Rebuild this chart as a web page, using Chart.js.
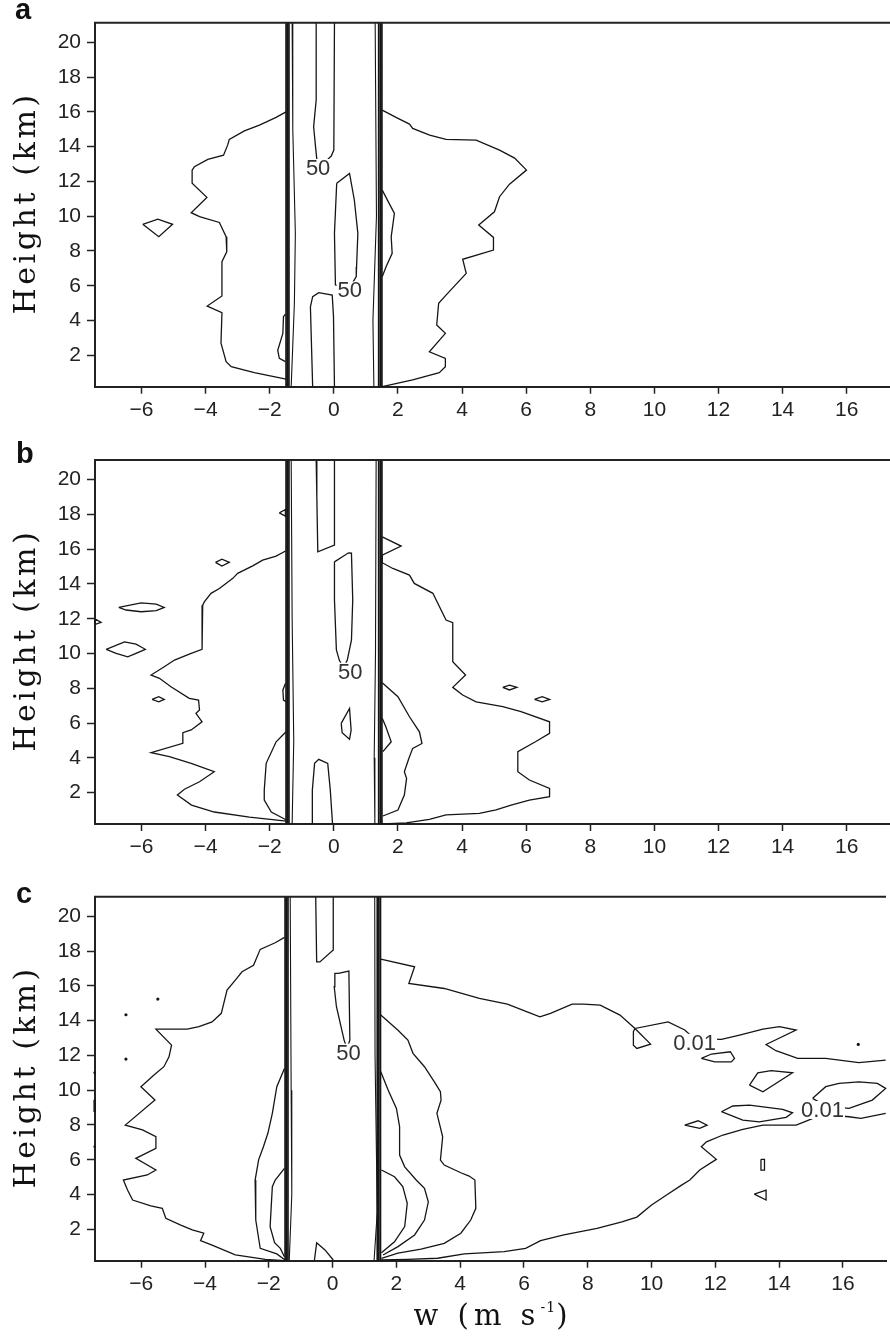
<!DOCTYPE html>
<html>
<head>
<meta charset="utf-8">
<title>Vertical velocity CFAD</title>
<script src="https://cdn.jsdelivr.net/npm/chart.js@4.4.1/dist/chart.umd.min.js"></script>
<style>
  html, body { margin: 0; padding: 0; background: #fff; }
  #wrap { position: relative; width: 890px; height: 1337px; overflow: hidden; }
  canvas { position: absolute; left: 0; }
</style>
</head>
<body>
<div id="wrap">
  <canvas id="panelA" width="890" height="437" style="top:0px"></canvas>
  <canvas id="panelB" width="890" height="437" style="top:437px"></canvas>
  <canvas id="panelC" width="890" height="463" style="top:874px"></canvas>
</div>
<script>
// ---- axes ----
const W_MIN = -7.45, W_MAX = 17.35;
const H_MIN = 0.19, H_MAX = 21.13;
const wTicks = [-6, -4, -2, 0, 2, 4, 6, 8, 10, 12, 14, 16];
const hTicks = [2, 4, 6, 8, 10, 12, 14, 16, 18, 20];

// the steep edges of the distribution near |w| = 1.5 (several levels stacked)
const bandLeft = [-1.49, -1.445, -1.40];
const bandRight = [1.40, 1.45, 1.50];

// ---- panel a contours, [w (m/s), height (km)] ----
const aOuterLeft = [[-1.49,16.0],[-1.80,15.68],[-2.32,15.24],[-2.79,14.91],[-3.26,14.42],[-3.31,14.1],[-3.44,13.51],[-3.93,13.27],[-4.35,12.84],[-4.42,12.65],[-4.42,11.89],[-3.96,11.08],[-4.45,10.20],[-4.19,9.97],[-3.57,9.64],[-3.36,8.82],[-3.34,7.95],[-3.49,7.38],[-3.49,5.41],[-3.95,4.83],[-3.49,4.45],[-3.52,2.69],[-3.36,1.63],[-3.20,1.34],[-2.48,1.0],[-1.49,0.62]];
const aLoopLeft = [[-5.96,9.53],[-5.49,9.83],[-5.03,9.53],[-5.46,8.82]];
const aBumpLeft = [[-1.51,4.37],[-1.57,4.22],[-1.59,3.26],[-1.75,2.29],[-1.70,1.82],[-1.51,1.63]];
const aOuterRight = [[1.51,16.10],[1.94,15.68],[2.36,15.30],[2.46,15.05],[2.99,14.66],[3.50,14.42],[4.44,14.38],[5.17,13.80],[5.64,13.34],[6.01,12.65],[5.48,11.84],[5.17,11.12],[5.01,10.25],[4.52,9.49],[4.98,8.78],[4.98,8.05],[4.02,7.52],[4.13,6.71],[3.50,5.46],[3.27,4.99],[3.21,3.74],[3.48,3.26],[2.98,2.20],[3.48,1.82],[3.48,1.34],[3.29,1.0],[2.46,0.58],[1.51,0.19]];
const aBumpRight = [[1.51,11.50],[1.89,10.16],[1.79,8.82],[1.82,7.86],[1.63,7.09],[1.51,6.52]];
const aInnerLeft = [[-1.30,21.13],[-1.28,15.0],[-1.20,9.0],[-1.23,5.0],[-1.33,0.19]];
const aInnerRight = [[1.29,21.13],[1.33,10.0],[1.22,4.0],[1.25,0.19]];
const a50Upper = [[-0.55,21.13],[-0.55,16.68],[-0.63,15.14],[-0.57,13.99],[-0.53,13.27],[-0.35,12.9],[-0.19,13.27],[-0.08,13.46],[0.0,13.80],[0.02,21.13]];
const a50Mid = [[0.09,11.89],[0.49,12.46],[0.64,10.93],[0.75,9.01],[0.71,7.09],[0.70,6.52],[0.5,5.9],[0.05,6.04],[0.02,9.01]];
const a50Low = [[-0.66,0.19],[-0.73,4.79],[-0.66,5.37],[-0.47,5.60],[-0.05,5.46],[-0.01,4.22],[0.02,0.19]];
const aLabels = [['50', -0.49, 12.77], ['50', 0.50, 5.73]];

// ---- panel b ----
const bOuterLeft = [[-1.49,15.91],[-1.80,15.60],[-2.22,15.37],[-2.53,15.04],[-3.00,14.61],[-3.15,14.32],[-3.57,13.74],[-3.83,13.46],[-4.04,12.97],[-4.09,12.78],[-4.11,10.24],[-4.45,10.01],[-4.97,9.62],[-5.29,9.24],[-5.70,8.76],[-5.44,8.57],[-5.08,8.09],[-4.51,7.42],[-4.22,7.32],[-4.19,6.75],[-4.30,6.56],[-4.11,6.07],[-4.45,5.60],[-4.71,5.44],[-4.71,4.83],[-5.70,4.29],[-5.13,4.06],[-4.45,3.68],[-3.73,3.20],[-4.19,2.62],[-4.66,2.19],[-4.88,1.86],[-4.44,1.28],[-3.73,0.88],[-2.63,0.59],[-1.48,0.36]];
const bInnerLeft = [[-1.49,5.50],[-1.80,4.92],[-2.11,3.68],[-2.17,2.15],[-2.17,1.57],[-1.95,0.88],[-1.48,0.42]];
const bBumpLeft = [[-1.51,8.28],[-1.59,7.89],[-1.57,7.32],[-1.49,7.22]];
const bLoop1 = [[-3.69,15.24],[-3.49,15.42],[-3.26,15.24],[-3.49,15.03]];
const bLoop2 = [[-1.70,18.09],[-1.51,18.28],[-1.51,17.90]];
const bLoop3 = [[-6.71,12.65],[-6.01,12.91],[-5.54,12.84],[-5.29,12.65],[-5.54,12.46],[-6.01,12.40],[-6.48,12.50]];
const bLoop4 = [[-7.44,11.98],[-7.26,11.79],[-7.42,11.69]];
const bLoop5 = [[-7.10,10.24],[-6.53,10.67],[-6.17,10.54],[-5.88,10.24],[-6.17,10.01],[-6.43,9.81],[-6.79,10.01]];
const bLoop6 = [[-5.67,7.36],[-5.46,7.51],[-5.29,7.36],[-5.46,7.22]];
const bInnerLeftBand = [[-1.33,21.13],[-1.30,12.0],[-1.25,5.0],[-1.30,0.19]];
const bInnerRightBand = [[1.32,21.13],[1.30,10.0],[1.26,4.0],[1.28,0.19]];
const b50Upper = [[-0.55,21.13],[-0.53,19.01],[-0.50,15.85],[0.02,16.23],[0.02,21.13]];
const b50Mid = [[0.02,15.27],[0.46,15.79],[0.55,15.77],[0.59,13.07],[0.55,10.77],[0.42,9.62],[0.30,9.16],[0.17,9.62],[0.08,10.20],[0.02,13.07]];
const b50Small = [[0.23,5.98],[0.49,6.84],[0.54,5.59],[0.49,5.06],[0.26,5.44]];
const b50Low = [[-0.66,0.19],[-0.67,2.14],[-0.60,3.68],[-0.47,3.91],[-0.19,3.68],[-0.11,2.14],[-0.04,0.19]];
const bOuterRight = [[1.51,16.71],[2.10,16.18],[1.51,15.66],[1.51,15.22],[1.84,14.89],[2.36,14.51],[2.51,14.03],[3.09,13.46],[3.50,11.92],[3.71,11.77],[3.71,9.52],[4.11,8.76],[3.71,8.05],[4.02,7.61],[4.44,7.22],[5.27,6.94],[5.84,6.65],[6.73,6.07],[6.73,5.41],[6.29,4.92],[5.74,4.35],[5.74,3.20],[6.10,2.72],[6.73,2.24],[6.73,1.76],[6.10,1.57],[5.53,1.28],[5.06,1.0],[4.54,0.80],[3.50,0.71],[2.98,0.46],[2.26,0.26],[1.53,0.19]];
const bInnerRight = [[1.51,8.32],[2.00,7.51],[2.36,6.36],[2.67,5.49],[2.75,4.82],[2.46,4.54],[2.34,3.96],[2.20,3.20],[2.27,2.81],[2.20,1.86],[2.00,0.99],[1.53,0.65]];
const bSpikeRight = [[1.51,6.27],[1.62,5.8],[1.79,4.92],[1.53,4.35]];
const bLoop7 = [[5.27,8.05],[5.48,8.18],[5.71,8.05],[5.48,7.90]];
const bLoop8 = [[6.26,7.36],[6.50,7.51],[6.73,7.36],[6.50,7.22]];
const bLabels = [['50', 0.51, 8.95]];

// ---- panel c ----
const cOuterLeft = [[-1.51,18.79],[-1.80,18.48],[-2.27,18.10],[-2.48,17.19],[-2.84,16.81],[-3.05,16.33],[-3.31,15.76],[-3.49,14.42],[-3.78,13.93],[-4.19,13.65],[-4.56,13.51],[-5.54,13.51],[-5.05,12.59],[-5.13,11.92],[-5.29,11.35],[-5.60,10.87],[-6.01,10.20],[-5.57,9.43],[-6.50,7.99],[-5.96,7.71],[-5.54,7.32],[-5.54,6.65],[-6.17,6.08],[-5.54,5.41],[-5.81,5.12],[-6.56,4.83],[-6.43,4.26],[-6.27,3.68],[-5.70,3.34],[-5.34,3.20],[-5.23,2.63],[-4.76,2.24],[-4.40,1.96],[-4.04,1.77],[-4.14,1.34],[-3.78,1.09],[-3.05,0.52],[-2.11,0.27],[-1.51,0.19]];
const cMidLeft = [[-1.51,11.25],[-1.75,10.20],[-1.89,8.67],[-2.03,7.52],[-2.17,6.75],[-2.32,5.99],[-2.43,4.83],[-2.41,2.53],[-2.27,0.90],[-1.75,0.58],[-1.49,0.23]];
const cInnerLeft = [[-1.51,5.50],[-1.80,4.83],[-1.89,4.45],[-1.96,2.15],[-1.82,1.23],[-1.64,0.90],[-1.51,0.42]];
const cEdge1 = [[-7.46,11.06],[-7.46,10.94]];
const cEdge2 = [[-7.46,9.45],[-7.46,8.75]];
const cEdge3 = [[-7.46,6.80],[-7.46,6.70]];
const cSpecks = [[-5.48,15.24],[-6.48,14.34],[-6.48,11.79],[16.48,12.63]];
const cInnerLeftBand = [[-1.33,21.13],[-1.30,10.0],[-1.28,4.0],[-1.36,0.19]];
const cInnerRightBand = [[1.32,21.13],[1.33,12.0],[1.40,3.0],[1.30,0.19]];
const c50Upper = [[-0.53,21.13],[-0.50,17.38],[-0.40,17.38],[0.02,18.06],[0.02,21.13]];
const c50Mid = [[0.18,16.72],[0.51,16.85],[0.54,12.88],[0.45,12.4],[0.36,12.88],[0.12,14.80],[0.05,15.95],[0.07,16.72]];
const c50Low = [[-0.57,0.23],[-0.50,1.22],[-0.24,0.81],[0.02,0.23]];
const cTopRight = [[1.51,17.54],[2.57,17.10],[2.39,16.14],[3.50,15.85],[4.60,15.28],[5.48,14.95],[6.10,14.51],[6.50,14.22],[6.83,14.42],[7.51,14.95],[7.87,14.95],[8.39,14.89],[9.01,14.32],[9.48,13.55],[9.97,12.65],[9.54,12.40],[9.43,12.59],[9.43,13.36],[9.48,13.55],[10.52,13.93],[11.04,13.46],[11.35,12.95],[12.19,12.92],[12.76,13.17],[13.49,13.51],[14.01,13.65],[14.53,13.46],[13.59,12.63],[13.90,12.27],[14.58,11.83],[15.46,11.83],[16.50,11.58],[17.34,11.73]];
const cLowRight = [[1.51,0.23],[2.36,0.27],[3.29,0.33],[4.13,0.58],[5.38,0.71],[6.05,0.90],[6.52,1.34],[7.25,1.67],[8.29,2.05],[9.07,2.42],[9.54,2.70],[10.0,3.39],[10.47,3.97],[10.94,4.54],[11.20,4.83],[11.51,5.41],[12.03,6.02],[11.56,6.75],[11.72,7.03],[12.24,7.42],[12.86,7.75],[13.49,7.99],[14.53,7.99],[14.79,8.18],[15.36,8.6],[16.19,8.47],[16.56,8.38],[17.34,8.67]];
const cLensRight = [[15.05,9.53],[15.46,10.20],[15.88,10.39],[16.50,10.48],[17.08,10.39],[17.34,10.10],[16.92,9.43],[16.19,8.95],[15.46,9.09]];
const cLoopR1 = [[11.56,11.83],[11.88,12.08],[12.47,12.21],[12.60,11.83],[12.50,11.63],[11.98,11.63]];
const cLoopR2 = [[13.07,10.29],[13.33,11.0],[13.75,11.12],[14.42,11.0],[13.49,9.91]];
const cLoopR3 = [[12.19,8.76],[12.55,9.09],[13.07,9.14],[14.11,8.90],[14.42,8.70],[14.22,8.44],[13.38,8.18],[12.86,8.28]];
const cLoopR4 = [[11.04,7.99],[11.46,8.24],[11.74,7.99],[11.51,7.80]];
const cLoopR5 = [[13.43,6.02],[13.54,6.02],[13.54,5.40],[13.43,5.40]];
const cLoopR6 = [[13.22,4.02],[13.59,4.25],[13.59,3.68]];
const cRight2 = [[1.51,14.32],[2.05,13.45],[2.36,12.88],[2.52,12.12],[2.88,11.35],[3.19,10.48],[3.38,9.91],[3.40,9.43],[3.27,8.67],[3.45,7.32],[3.38,5.98],[3.50,5.69],[4.02,5.25],[4.28,5.06],[4.46,4.83],[4.49,3.20],[4.33,2.53],[4.02,1.77],[3.50,1.19],[2.77,0.85],[2.05,0.62],[1.53,0.33]];
const cRight3 = [[1.51,11.06],[1.74,10.01],[2.00,8.95],[2.10,7.90],[2.10,6.27],[2.26,5.59],[2.62,4.83],[2.88,4.35],[3.00,3.58],[2.88,2.53],[2.57,1.67],[2.05,1.0],[1.58,0.52]];
const cRight4 = [[1.53,5.41],[1.94,5.02],[2.20,4.45],[2.34,3.49],[2.26,2.15],[1.94,1.28],[1.53,0.65]];
const cLabels = [['50', 0.50, 12.16], ['0.01', 11.35, 12.72], ['0.01', 15.36, 8.86]];

const INK = '#151515';

function trace(pts, opts = {}) {
  const data = pts.map(([x, y]) => ({ x, y }));
  if (opts.closed) data.push({ x: pts[0][0], y: pts[0][1] });
  return {
    data,
    showLine: true,
    pointRadius: 0,
    borderColor: INK,
    borderWidth: opts.width || 1.3,
    tension: 0,
    fill: false,
    clip: opts.clip === undefined ? 2 : opts.clip
  };
}

function bandSets(inner) {
  const sets = [];
  bandLeft.concat(bandRight).forEach(w => {
    sets.push(trace([[w, H_MIN], [w, H_MAX]], { width: 1.7 }));
  });
  inner.forEach(p => sets.push(trace(p, { width: 1.1 })));
  return sets;
}

// letters, contour labels, axis titles and the top frame line
const decor = {
  id: 'decor',
  afterDraw(chart, args, opts) {
    const { ctx, chartArea: ca, scales } = chart;
    ctx.save();

    // frame line across the top
    ctx.strokeStyle = '#222';
    ctx.lineWidth = 2;
    ctx.beginPath();
    ctx.moveTo(ca.left - 1, ca.top);
    ctx.lineTo(ca.right, ca.top);
    ctx.stroke();

    // contour level labels on a white patch
    ctx.font = '22px "Liberation Sans", Arial, sans-serif';
    ctx.textAlign = 'center';
    ctx.textBaseline = 'middle';
    (opts.labels || []).forEach(([txt, w, h]) => {
      const x = scales.x.getPixelForValue(w);
      const y = scales.y.getPixelForValue(h);
      const tw = ctx.measureText(txt).width;
      ctx.fillStyle = '#fff';
      ctx.fillRect(x - tw / 2 - 1, y - 9, tw + 2, 18);
      ctx.fillStyle = '#333';
      ctx.fillText(txt, x, y + 1);
    });

    // panel letter
    ctx.font = 'bold 29px "Liberation Sans", Arial, sans-serif';
    ctx.textAlign = 'left';
    ctx.textBaseline = 'alphabetic';
    ctx.fillStyle = '#111';
    ctx.fillText(opts.letter, opts.letterX, opts.letterY);

    // y title, letter spaced
    ctx.translate(35, (ca.top + ca.bottom) / 2);
    ctx.rotate(-Math.PI / 2);
    spaced(ctx, [{ t: 'Height (km)', font: '30px "DejaVu Serif", serif' }], 0, 0, 3.6);
    ctx.setTransform(1, 0, 0, 1, 0, 0);

    if (opts.xTitle) {
      spaced(ctx, [
        { t: 'w (m s', font: '29px "DejaVu Serif", serif' },
        { t: '-1', font: '14px "DejaVu Serif", serif', dy: -13 },
        { t: ')', font: '29px "DejaVu Serif", serif' }
      ], (ca.left + ca.right) / 2, ca.bottom + 64, 5);
    }
    ctx.restore();
  }
};

function spaced(ctx, segs, cx, y, gap) {
  let total = 0;
  const glyphs = [];
  segs.forEach(s => {
    ctx.font = s.font;
    for (const ch of s.t) {
      const w = ctx.measureText(ch).width;
      glyphs.push({ ch, w, font: s.font, dy: s.dy || 0, small: !!s.dy });
      total += w + (s.dy ? 1 : gap);
    }
  });
  total -= gap;
  let x = cx - total / 2;
  ctx.textAlign = 'left';
  ctx.textBaseline = 'alphabetic';
  ctx.fillStyle = '#111';
  glyphs.forEach(g => {
    ctx.font = g.font;
    ctx.fillText(g.ch, x, y + g.dy);
    x += g.w + (g.small ? 1 : gap);
  });
}

function makePanel(cfg) {
  const datasets = [];
  cfg.open.forEach(p => datasets.push(trace(p)));
  cfg.closed.forEach(p => datasets.push(trace(p, { closed: true })));
  (cfg.edge || []).forEach(p => datasets.push(trace(p, { width: 2.5, clip: false })));
  datasets.push(...bandSets(cfg.inner));
  if (cfg.specks) {
    datasets.push({
      data: cfg.specks.map(([x, y]) => ({ x, y })),
      showLine: false, pointRadius: 1.6, pointBorderWidth: 0,
      pointBackgroundColor: INK
    });
  }

  new Chart(document.getElementById(cfg.id), {
    type: 'scatter',
    data: { datasets },
    plugins: [decor],
    options: {
      responsive: false,
      animation: false,
      events: [],
      layout: { padding: { top: cfg.padTop, left: 0, right: 0, bottom: 0 } },
      plugins: {
        legend: { display: false },
        tooltip: { enabled: false },
        decor: { letter: cfg.letter, letterX: cfg.letterPos[0], letterY: cfg.letterPos[1], labels: cfg.labels, xTitle: cfg.xTitle }
      },
      scales: {
        x: {
          type: 'linear', min: W_MIN, max: W_MAX,
          afterBuildTicks: s => { s.ticks = wTicks.map(v => ({ value: v })); },
          afterFit: s => { s.height = cfg.axisH; },
          grid: { drawOnChartArea: false, drawTicks: true, tickLength: 7, tickWidth: 1.5, color: '#222' },
          border: { display: true, color: '#222', width: 2 },
          ticks: {
            autoSkip: false, maxRotation: 0, padding: 4, color: '#222',
            font: { family: '"Liberation Sans", Arial, sans-serif', size: 21 },
            callback: v => (v < 0 ? '\u2212' + Math.abs(v) : String(v))
          }
        },
        y: {
          type: 'linear', min: H_MIN, max: H_MAX,
          afterBuildTicks: s => { s.ticks = hTicks.map(v => ({ value: v })); },
          afterFit: s => { s.width = 95; },
          grid: { drawOnChartArea: false, drawTicks: true, tickLength: 8, tickWidth: 1.5, color: '#222' },
          border: { display: true, color: '#222', width: 2 },
          ticks: {
            autoSkip: false, padding: 6, color: '#222',
            font: { family: '"Liberation Sans", Arial, sans-serif', size: 21 }
          }
        }
      }
    }
  });
}

makePanel({
  id: 'panelA', letter: 'a', letterPos: [15, 19], padTop: 22.7, axisH: 50.3,
  open: [aOuterLeft, aBumpLeft, aOuterRight, aBumpRight, a50Upper, a50Low],
  closed: [aLoopLeft, a50Mid],
  inner: [aInnerLeft, aInnerRight],
  labels: aLabels
});

makePanel({
  id: 'panelB', letter: 'b', letterPos: [16, 26], padTop: 23, axisH: 50,
  open: [bOuterLeft, bInnerLeft, bBumpLeft, b50Upper, b50Low, bOuterRight, bInnerRight, bSpikeRight],
  closed: [bLoop1, bLoop2, bLoop3, bLoop4, bLoop5, bLoop6, b50Mid, b50Small, bLoop7, bLoop8],
  inner: [bInnerLeftBand, bInnerRightBand],
  labels: bLabels
});

makePanel({
  id: 'panelC', letter: 'c', letterPos: [16, 29], padTop: 22.7, axisH: 76.3,
  open: [cOuterLeft, cMidLeft, cInnerLeft, c50Upper, c50Low, cTopRight, cLowRight, cRight2, cRight3, cRight4],
  closed: [c50Mid, cLensRight, cLoopR1, cLoopR2, cLoopR3, cLoopR4, cLoopR5, cLoopR6],
  edge: [cEdge1, cEdge2, cEdge3],
  inner: [cInnerLeftBand, cInnerRightBand],
  specks: cSpecks,
  labels: cLabels,
  xTitle: true
});
</script>
</body>
</html>
